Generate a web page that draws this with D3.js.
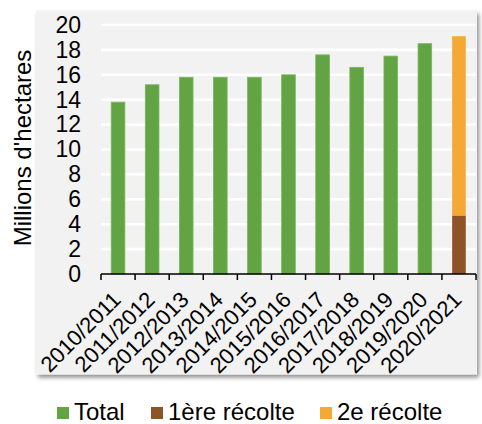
<!DOCTYPE html>
<html>
<head>
<meta charset="utf-8">
<script src="https://cdn.jsdelivr.net/npm/d3@7"></script>
<style>
  html, body { margin: 0; padding: 0; background: #ffffff; }
  svg { display: block; }
  text { font-family: "Liberation Sans", Arial, sans-serif; fill: #000; }
</style>
</head>
<body>
<svg id="chart" width="482" height="424"></svg>
<script>
const categories = ['2010/2011','2011/2012','2012/2013','2013/2014','2014/2015','2015/2016','2016/2017','2017/2018','2018/2019','2019/2020','2020/2021'];
const totalValues = [13.8, 15.2, 15.8, 15.8, 15.8, 16.0, 17.6, 16.6, 17.5, 18.5, 0];
const firstHarvest = [0, 0, 0, 0, 0, 0, 0, 0, 0, 0, 4.7];
const secondHarvest = [0, 0, 0, 0, 0, 0, 0, 0, 0, 0, 14.4];
const yTicks = [0, 2, 4, 6, 8, 10, 12, 14, 16, 18, 20];
const seriesNames = ['Total', '1ère récolte', '2e récolte'];
const seriesColors = ['#62a443', '#8e5428', '#f4a934'];

const svg = d3.select('#chart');
const defs = svg.append('defs');
const f = defs.append('filter').attr('id', 'shadow').attr('x', '-5%').attr('y', '-5%').attr('width', '115%').attr('height', '115%');
f.append('feGaussianBlur').attr('in', 'SourceAlpha').attr('stdDeviation', 2).attr('result', 'b');
f.append('feOffset').attr('in', 'b').attr('dx', 2).attr('dy', 3).attr('result', 'o');
f.append('feComponentTransfer').attr('in', 'o').attr('result', 'o2')
  .append('feFuncA').attr('type', 'linear').attr('slope', 0.45);
const m = f.append('feMerge');
m.append('feMergeNode').attr('in', 'o2');
m.append('feMergeNode').attr('in', 'SourceGraphic');

// panel
svg.append('rect').attr('x', 36).attr('y', 10.5).attr('width', 441).attr('height', 364)
  .attr('fill', '#f2f2f2').attr('filter', 'url(#shadow)');

const x = d3.scaleBand().domain(categories).range([101, 476]).paddingInner(0.6).paddingOuter(0.3);
const y = d3.scaleLinear().domain([0, 20]).range([274, 25]);

// gridlines
svg.append('g').selectAll('line').data(yTicks.filter(d => d > 0)).join('line')
  .attr('x1', 101).attr('x2', 476)
  .attr('y1', d => y(d)).attr('y2', d => y(d))
  .attr('stroke', '#ffffff').attr('stroke-width', 2.6);

// bars: Total
svg.append('g').selectAll('rect').data(categories.map((c, i) => ({c, v: totalValues[i]})).filter(d => d.v > 0)).join('rect')
  .attr('x', d => x(d.c)).attr('width', x.bandwidth())
  .attr('y', d => y(d.v)).attr('height', d => y(0) - y(d.v))
  .attr('fill', seriesColors[0]).attr('stroke', '#78b55c').attr('stroke-width', 0.8);

// stacked bars
const stackRows = categories.map((c, i) => ({c, a: firstHarvest[i], b: secondHarvest[i]})).filter(d => d.a + d.b > 0);
const sg = svg.append('g');
sg.selectAll('rect.a').data(stackRows).join('rect').attr('class', 'a')
  .attr('x', d => x(d.c)).attr('width', x.bandwidth())
  .attr('y', d => y(d.a)).attr('height', d => y(0) - y(d.a))
  .attr('fill', seriesColors[1]);
sg.selectAll('rect.b').data(stackRows).join('rect').attr('class', 'b')
  .attr('x', d => x(d.c)).attr('width', x.bandwidth())
  .attr('y', d => y(d.a + d.b)).attr('height', d => y(d.a) - y(d.a + d.b))
  .attr('fill', seriesColors[2]);

// y axis labels
const yAxis = d3.axisLeft(y).tickValues(yTicks).tickSize(0).tickPadding(0);
const ya = svg.append('g').attr('transform', 'translate(81,0)').call(yAxis);
ya.select('.domain').remove();
ya.selectAll('text').attr('font-size', 23).attr('font-family', '"Liberation Sans", Arial, sans-serif').attr('fill', '#000');

// x axis
const xEdges = d3.range(categories.length + 1).map(i => 101 + i * (375 / categories.length));
const xa = svg.append('g');
xa.append('line').attr('x1', 101).attr('x2', 476).attr('y1', y(0)).attr('y2', y(0))
  .attr('stroke', '#000').attr('stroke-width', 1.5);
xa.selectAll('line.t').data(xEdges).join('line').attr('class', 't')
  .attr('x1', d => d).attr('x2', d => d).attr('y1', y(0)).attr('y2', y(0) + 6)
  .attr('stroke', '#000').attr('stroke-width', 1.5);
xa.selectAll('text').data(categories).join('text')
  .attr('text-anchor', 'end')
  .attr('font-size', 22)
  .attr('transform', d => `translate(${x(d) + x.bandwidth() / 2 + 4},${301}) rotate(-45)`)
  .text(d => d);

// y title
svg.append('text').attr('text-anchor', 'middle')
  .attr('transform', 'translate(31,148) rotate(-90)')
  .attr('font-size', 24)
  .text("Millions d'hectares");

// legend
const legendX = [57, 151, 320];
const lg = svg.append('g');
seriesNames.forEach((n, i) => {
  lg.append('rect').attr('x', legendX[i]).attr('y', 407).attr('width', 12).attr('height', 12).attr('fill', seriesColors[i]);
  lg.append('text').attr('x', legendX[i] + 17).attr('y', 420).attr('font-size', 24).text(n);
});
</script>
</body>
</html>
